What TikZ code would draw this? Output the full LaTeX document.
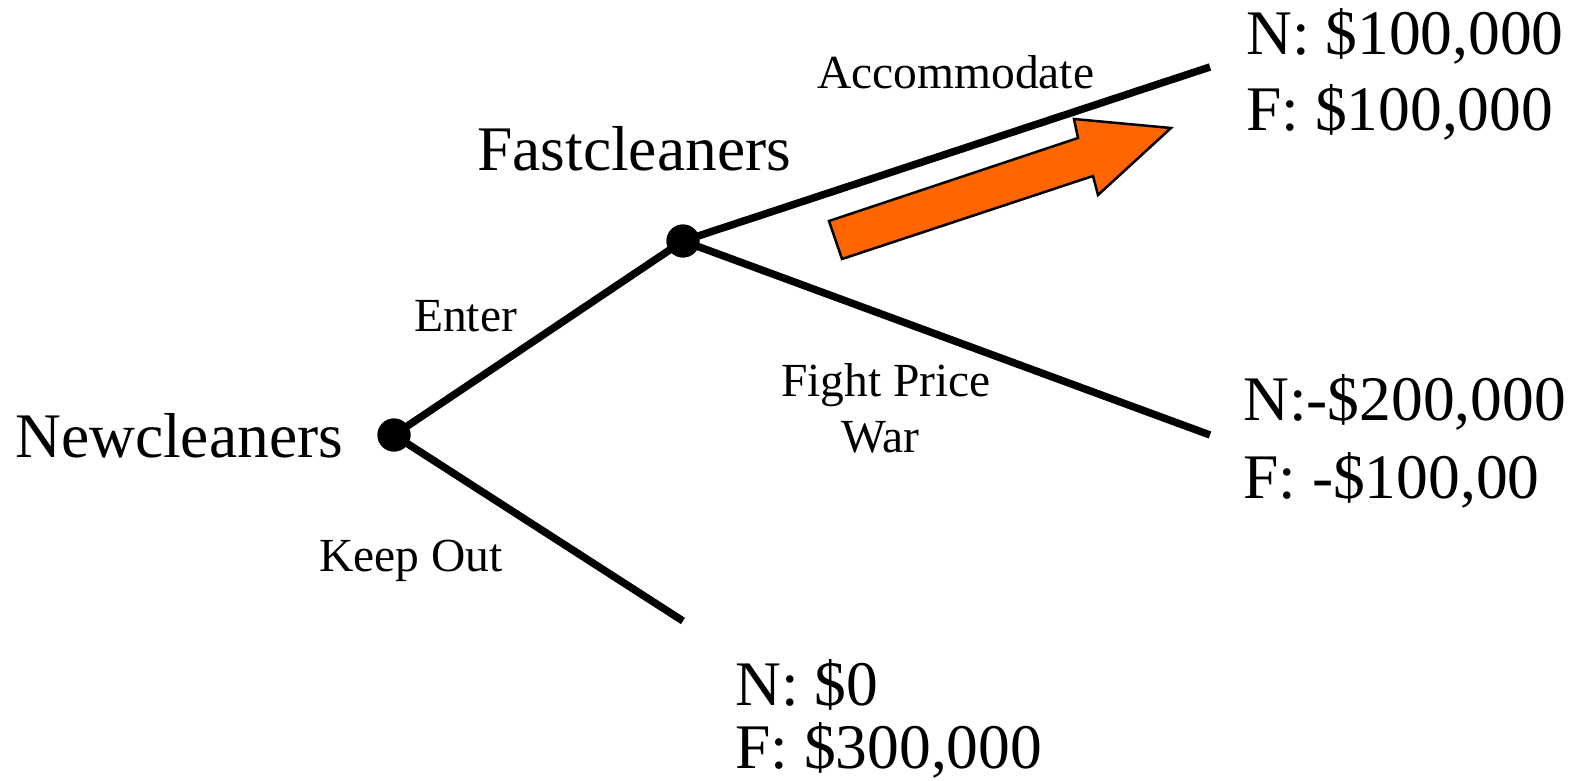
\documentclass[tikz,border=0pt]{standalone}
\usepackage{fontspec}
\setmainfont{Liberation Serif}
\usepackage{xcolor}
\definecolor{arroworange}{HTML}{FF6600}

\begin{document}
\begin{tikzpicture}[x=1pt, y=-1pt,
        big/.style={font=\fontsize{63.5}{76}\selectfont, inner sep=0pt, anchor=base west},
        small/.style={font=\fontsize{47.5}{56}\selectfont, inner sep=0pt, anchor=base west},
        dot/.style={circle, fill=black, inner sep=0pt, minimum size=33pt},
        branch/.style={line width=7.5pt}]
        \useasboundingbox (0,0) rectangle (1585,781);

        % Decision points
        \node[dot] (nc) at (394,435) {};
        \node[dot] (fc) at (683,241) {};
        \coordinate (accend) at (1210,67);
        \coordinate (warend) at (1210,435);
        \coordinate (outend) at (683,621);

        % Branches
        \draw[branch] (nc.center) -- (fc.center);
        \draw[branch] (nc.center) -- (outend);
        \draw[branch] (fc.center) -- (accend);
        \draw[branch] (fc.center) -- (warend);
        \node[dot] at (nc) {};
        \node[dot] at (fc) {};

        % Players
        \node[big] (newc) at (15,457) {Newcleaners};
        \node[big] (fastc) at (477,171) {Fastcleaners};

        % Moves
        \node[small] (enter) at (414,331) {Enter};
        \node[small] (keep) at (319,571) {Keep Out};
        \node[small] (accom) at (817,89) {Accommodate};
        \node[small, anchor=base] (fight) at (886,396) {Fight Price};
        \node[small, anchor=base] (fightwar) at (880,452) {War};

        % Payoffs
        \node[big] (accn) at (1246,55) {N: \$100,000};
        \node[big] (accf) at (1246,131) {F: \$100,000};
        \node[big] (warn) at (1243,420) {N:-\$200,000};
        \node[big] (warf) at (1243,498) {F: -\$100,00};
        \node[big] (outn) at (735,705) {N: \$0};
        \node[big] (outf) at (735,768) {F: \$300,000};

        % Equilibrium arrow
        \filldraw[fill=arroworange, draw=black, line width=2.5pt, line join=miter]
            (842,259) -- (829,221) -- (1078,138) -- (1074,119) -- (1171,128)
            -- (1098,195) -- (1093,176) -- cycle;
\end{tikzpicture}
\end{document}
